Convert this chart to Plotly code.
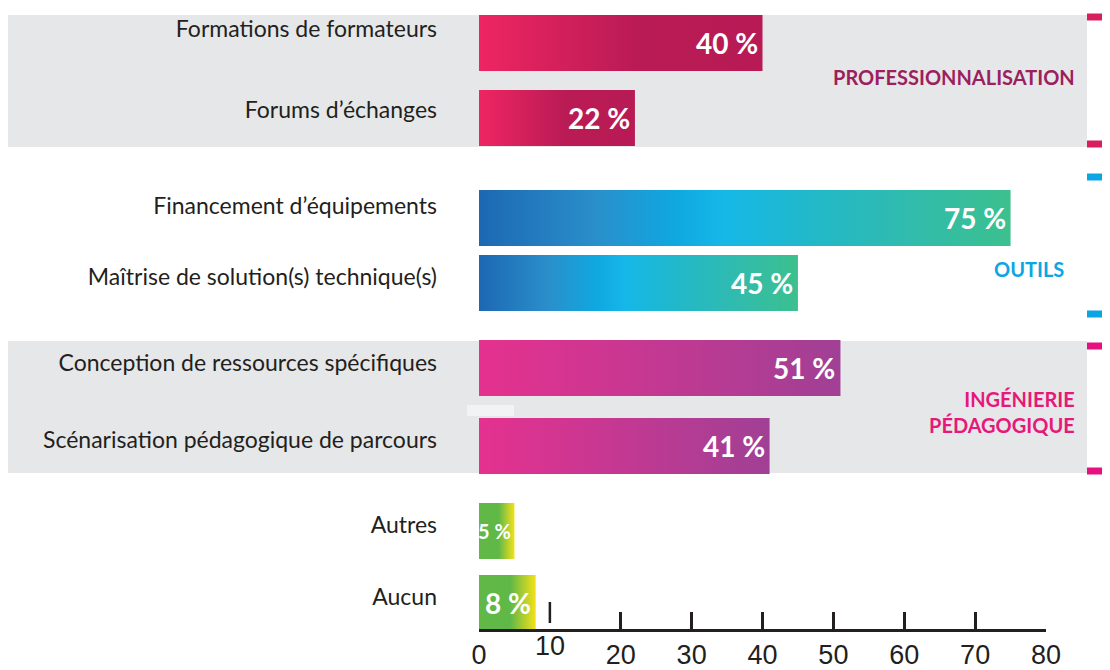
import plotly.graph_objects as go

# data
categories = [
    "Formations de formateurs",
    "Forums d’échanges",
    "Financement d’équipements",
    "Maîtrise de solution(s) technique(s)",
    "Conception de ressources spécifiques",
    "Scénarisation pédagogique de parcours",
    "Autres",
    "Aucun",
]
values = [40, 22, 75, 45, 51, 41, 5, 8]
groups = ["pro", "pro", "out", "out", "ing", "ing", "other", "other"]
x_ticks = [0, 10, 20, 30, 40, 50, 60, 70, 80]

# layout: positions below are screenshot pixels; the page body adds an 8px margin
OFF = 8
W, H, B = 1110 - OFF, 670 - OFF, 41
PLOT_H = H - B
centers = [43, 118, 218, 283, 368, 446, 531, 603]
label_y = [29, 110, 206, 277, 363, 440, 525, 597]
half = 28
raised_tick = 10  # this tick sits higher in the original artwork

scales = {
    "pro": [[0, "#EE2562"], [0.55, "#BA1B55"], [1, "#B71A54"]],
    "out": [[0, "#1C68B2"], [0.22, "#2A8FCB"], [0.37, "#0FA8E0"], [0.46, "#16B8E8"],
            [0.62, "#21B8CA"], [0.8, "#30BBAF"], [1, "#3CC08E"]],
    "ing": [[0, "#E5318F"], [1, "#A04095"]],
    "other": [[0, "#62B846"], [0.55, "#5FB847"], [1, "#F4E11A"]],
}
INK = "#231F20"


def px(p):
    return (p - OFF) / W


def py(p):
    return (PLOT_H - (p - OFF)) / PLOT_H


fig = go.Figure()

for cat, v, g, c in zip(categories, values, groups, centers):
    fig.add_trace(go.Scatter(
        x=[0, v, v, 0, 0],
        y=[c - half, c - half, c + half, c + half, c - half],
        mode="lines", fill="toself", line=dict(width=0),
        fillgradient=dict(type="horizontal", colorscale=scales[g]),
        hoverinfo="skip", showlegend=False,
    ))
    small = v < 6
    fig.add_annotation(
        x=v, y=c, xref="x", yref="y", xanchor="right", xshift=-1 if small else -3,
        text=f"{v} %", showarrow=False,
        font=dict(family="Lato", size=20 if small else 28, color="white", weight=700),
    )

# grey group bands
shapes = []
for top, bot in [(15, 147), (341, 473)]:
    shapes.append(dict(type="rect", xref="paper", yref="paper", layer="below",
                       x0=px(8), x1=px(1087), y0=py(bot), y1=py(top),
                       fillcolor="#E6E7E8", line=dict(width=0)))
shapes.append(dict(type="rect", xref="paper", yref="paper", layer="below",
                   x0=px(467), x1=px(514), y0=py(416), y1=py(405),
                   fillcolor="#F2F3F5", line=dict(width=0)))

# right-side group markers
for p, col in [(17, "#D81E5B"), (144, "#D81E5B"), (177, "#0AA6E4"), (314, "#0AA6E4"),
               (346, "#E6117F"), (471, "#E6117F")]:
    shapes.append(dict(type="rect", xref="paper", yref="paper",
                       x0=px(1087), x1=px(1110), y0=py(p + 3.5), y1=py(p - 3.5),
                       fillcolor=col, line=dict(width=0)))

# the odd raised "10" tick
shapes.append(dict(type="line", xref="x", yref="y", x0=raised_tick, x1=raised_tick,
                   y0=602, y1=623, line=dict(color=INK, width=2.5)))
fig.add_annotation(x=raised_tick, y=py(646), xref="x", yref="paper", yanchor="middle",
                   text=str(raised_tick), showarrow=False,
                   font=dict(family="Liberation Sans", size=27, color=INK))

group_labels = [
    ("PROFESSIONNALISATION", 1077, 77, "#9C1F5E"),
    ("OUTILS", 1066, 269, "#0BA6E3"),
    ("INGÉNIERIE<br>PÉDAGOGIQUE", 1077, 412, "#E5197A"),
]
for txt, xr, yc, col in group_labels:
    fig.add_annotation(x=px(xr), y=yc, xref="paper", yref="y", xanchor="right",
                       align="right", text=txt, showarrow=False,
                       font=dict(family="Lato", size=20, color=col, weight=700))

fig.update_layout(
    width=W, height=H,
    margin=dict(l=0, r=0, t=0, b=B),
    paper_bgcolor="white", plot_bgcolor="rgba(0,0,0,0)",
    shapes=shapes,
    xaxis=dict(
        domain=[px(479), px(1046)], range=[0, 80], automargin=False,
        tickvals=[t for t in x_ticks if t != raised_tick],
        ticks="inside", ticklen=17, tickwidth=2.5,
        tickcolor=INK, showline=True, linecolor=INK, linewidth=2.5,
        showgrid=False, zeroline=False,
        tickfont=dict(family="Liberation Sans", size=27, color=INK),
        ticklabelstandoff=0,
    ),
    yaxis=dict(
        range=[PLOT_H + OFF, OFF], tickvals=label_y, ticktext=categories, automargin=False,
        showgrid=False, zeroline=False, showline=False, ticks="",
        tickfont=dict(family="Lato", size=23, color=INK),
        ticklabelstandoff=41,
    ),
)

fig.write_html("out.html")
